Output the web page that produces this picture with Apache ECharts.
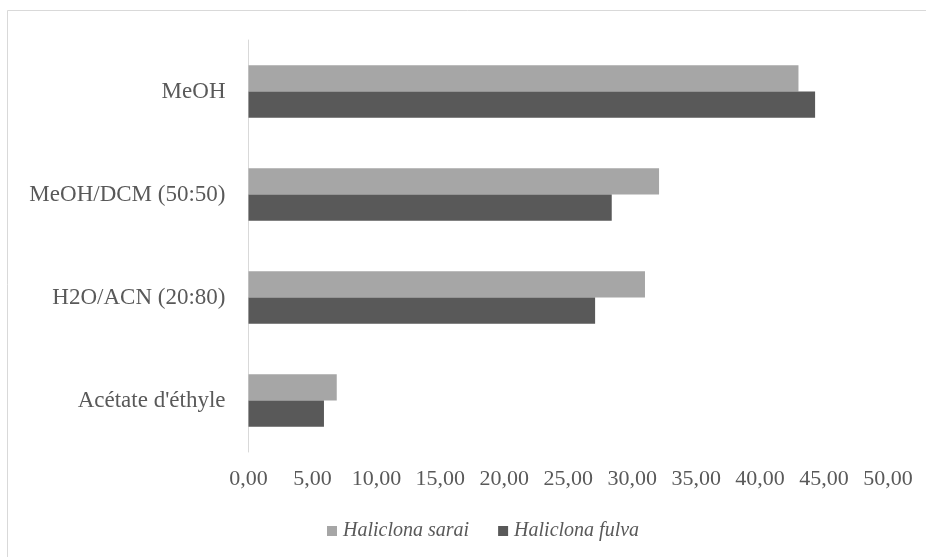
<!DOCTYPE html>
<html><head><meta charset="utf-8">
<script src="https://cdn.jsdelivr.net/npm/echarts@6/dist/echarts.min.js"></script>
<style>html,body{margin:0;padding:0;background:#fff}#c{width:926px;height:557px}</style>
</head><body><div id="c"></div>
<script>
var categories = ["MeOH", "MeOH/DCM (50:50)", "H2O/ACN (20:80)", "Acétate d'éthyle"];
var sarai = [43.0, 32.1, 31.0, 6.9];
var fulva = [44.3, 28.4, 27.1, 5.9];
var seriesNames = ["Haliclona sarai", "Haliclona fulva"];

var font = "'Liberation Serif', 'DejaVu Serif', serif";
var chart = echarts.init(document.getElementById('c'));
chart.setOption({
  animation: false,
  backgroundColor: '#fff',
  graphic: [{type:'rect', shape:{x:7.5,y:10.5,width:940,height:560}, style:{fill:'none', stroke:'#d9d9d9', lineWidth:1}}],
  grid: {left: 248.5, right: 38, top: 40, bottom: 105},
  legend: {
    data: seriesNames, top: 516, left: 322, itemWidth: 10, itemHeight: 10, itemGap: 29,
    icon: 'rect',
    textStyle: {fontFamily: font, fontStyle: 'italic', fontSize: 20, color: '#595959', padding: [0,0,0,1]}
  },
  xAxis: {
    type: 'value', min: 0, max: 50, interval: 5,
    axisLine: {show: false}, axisTick: {show: false}, splitLine: {show: false},
    axisLabel: {fontFamily: font, fontSize: 22, color: '#595959', margin: 16,
      formatter: function(v){ return v.toFixed(2).replace('.', ','); }}
  },
  yAxis: {
    type: 'category', data: categories, inverse: true,
    axisLine: {show: true, lineStyle: {color: '#d9d9d9', width: 1}},
    axisTick: {show: false},
    axisLabel: {fontFamily: font, fontSize: 23, color: '#595959', margin: 23}
  },
  series: [
    {name: seriesNames[0], type: 'bar', data: sarai, barGap: '0%', barCategoryGap: '49%', itemStyle: {color: '#a6a6a6'}},
    {name: seriesNames[1], type: 'bar', data: fulva, itemStyle: {color: '#595959'}}
  ]
});
</script></body></html>
